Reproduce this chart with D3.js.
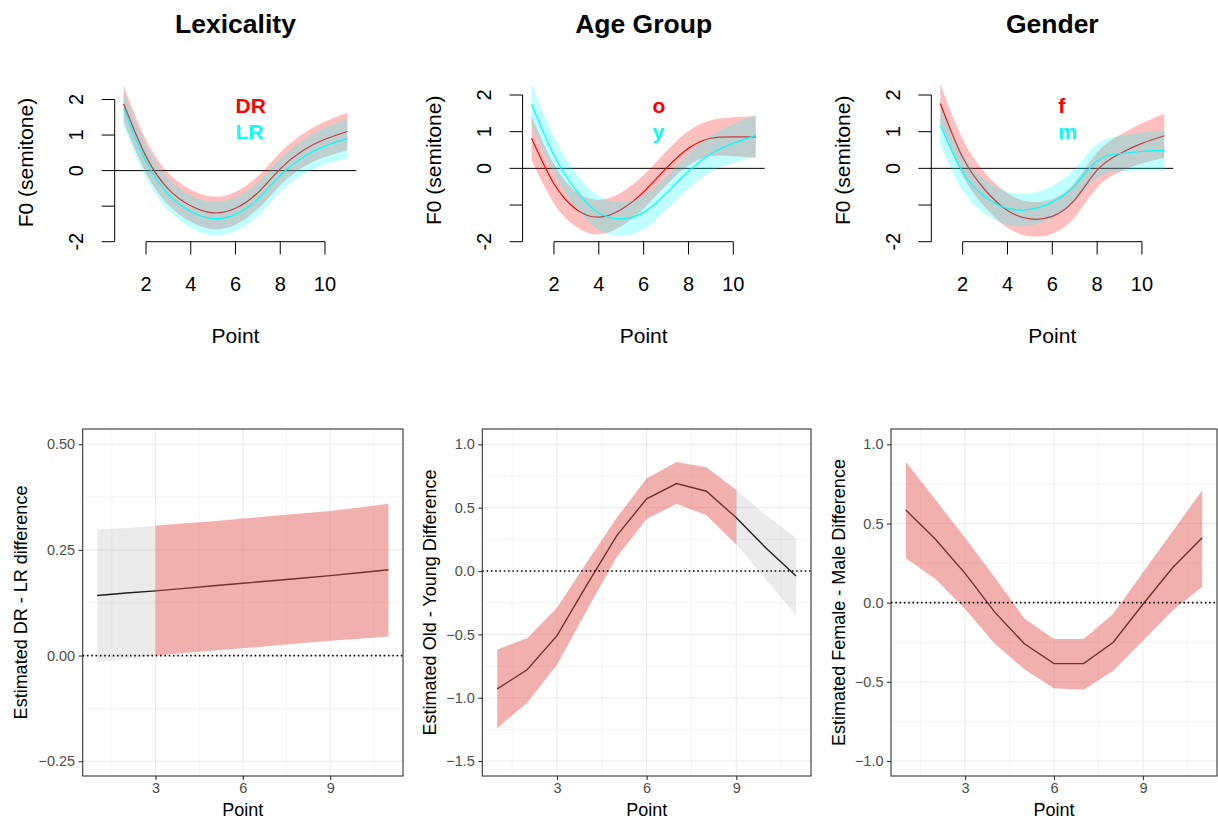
<!DOCTYPE html>
<html>
<head>
<meta charset="utf-8">
<style>
body { margin: 0; background: #fff; }
svg { display: block; font-family: "Liberation Sans", Arial, sans-serif; }
.grid-major { stroke: #ebebeb; stroke-width: 1.1; }
.grid-minor { stroke: #ebebeb; stroke-width: 0.55; }
</style>
</head>
<body>
<svg width="1218" height="820"></svg>
<script src="https://cdn.jsdelivr.net/npm/d3@7"></script>
<script>
// time points along the contour
var points = [1, 2, 3, 4, 5, 6, 7, 8, 9, 10, 11];

// top row: smooths (fit) and half width of the confidence band
var lexDR   = [1.88, 0.40, -0.52, -0.99, -1.19, -1.06, -0.62, 0.05, 0.56, 0.88, 1.10];
var lexDRse = [0.50, 0.47, 0.45, 0.45, 0.46, 0.46, 0.46, 0.46, 0.47, 0.50, 0.53];
var lexLR   = [1.74, 0.25, -0.67, -1.15, -1.35, -1.23, -0.80, -0.13, 0.37, 0.69, 0.90];
var lexLRse = [0.48, 0.46, 0.45, 0.45, 0.47, 0.47, 0.47, 0.47, 0.48, 0.52, 0.56];

var ageO   = [0.82, -0.42, -1.12, -1.33, -1.12, -0.64, 0.00, 0.55, 0.82, 0.86, 0.86];
var ageOse = [0.60, 0.53, 0.48, 0.47, 0.46, 0.46, 0.46, 0.47, 0.49, 0.53, 0.57];
var ageY   = [1.75, 0.36, -0.61, -1.22, -1.38, -1.20, -0.69, -0.08, 0.40, 0.68, 0.90];
var ageYse = [0.55, 0.50, 0.47, 0.46, 0.46, 0.46, 0.46, 0.47, 0.49, 0.53, 0.57];

var genF   = [1.77, 0.30, -0.59, -1.15, -1.38, -1.31, -0.86, -0.05, 0.40, 0.68, 0.89];
var genFse = [0.53, 0.50, 0.47, 0.47, 0.47, 0.47, 0.47, 0.48, 0.50, 0.55, 0.60];
var genM   = [1.18, -0.10, -0.78, -1.09, -1.12, -0.92, -0.47, 0.20, 0.40, 0.46, 0.49];
var genMse = [0.55, 0.50, 0.46, 0.45, 0.44, 0.44, 0.45, 0.46, 0.48, 0.52, 0.55];

// bottom row: estimated differences with CI, and which points count as significant
var lexDiff   = [0.142, 0.148, 0.153, 0.159, 0.165, 0.171, 0.177, 0.183, 0.189, 0.196, 0.203];
var lexDiffLo = [-0.016, -0.008, 0.000, 0.006, 0.012, 0.017, 0.023, 0.029, 0.035, 0.040, 0.045];
var lexDiffHi = [0.298, 0.302, 0.307, 0.313, 0.318, 0.324, 0.330, 0.336, 0.342, 0.350, 0.359];
var lexSig    = [0, 0, 1, 1, 1, 1, 1, 1, 1, 1, 1];

var ageDiff   = [-0.93, -0.78, -0.51, -0.11, 0.28, 0.57, 0.69, 0.63, 0.42, 0.18, -0.04];
var ageDiffLo = [-1.24, -1.04, -0.74, -0.31, 0.11, 0.41, 0.53, 0.44, 0.21, -0.07, -0.35];
var ageDiffHi = [-0.62, -0.53, -0.29, 0.07, 0.42, 0.73, 0.86, 0.82, 0.64, 0.44, 0.26];
var ageSig    = [1, 1, 1, 1, 1, 1, 1, 1, 1, 0, 0];

var genDiff   = [0.585, 0.40, 0.185, -0.06, -0.26, -0.385, -0.385, -0.25, -0.01, 0.22, 0.41];
var genDiffLo = [0.28, 0.15, -0.04, -0.26, -0.42, -0.54, -0.55, -0.43, -0.24, -0.05, 0.10];
var genDiffHi = [0.89, 0.65, 0.41, 0.16, -0.10, -0.23, -0.23, -0.07, 0.19, 0.45, 0.71];
var genSig    = [1, 1, 1, 1, 1, 1, 1, 1, 1, 1, 1];

var topTitles = ["Lexicality", "Age Group", "Gender"];
var topXTicks = [2, 4, 6, 8, 10];
var topYTicks = [-2, -1, 0, 1, 2];
var topYLabels = ["-2", "", "0", "1", "2"];  // R drops the "-1" label (overlap)

var bottomYLabels = [
  "Estimated DR - LR difference",
  "Estimated Old - Young Difference",
  "Estimated Female - Male Difference"
];
var bottomXTicks = [3, 6, 9];
var bottomXMinor = [1.5, 4.5, 7.5, 10.5];

var svg = d3.select("svg");

//----- top row (base R style smooth plots) -----
var topPanels = [
  { left: 114.7, right: 356.3, yTop: 99.5, title: topTitles[0], legX: 6.0,
    series: [ { fit: lexDR, se: lexDRse, name: "DR", col: "#ff0000" },
              { fit: lexLR, se: lexLRse, name: "LR", col: "#00ffff" } ] },
  { left: 522.6, right: 764.7, yTop: 95, title: topTitles[1], legX: 6.4,
    series: [ { fit: ageO, se: ageOse, name: "o", col: "#ff0000" },
              { fit: ageY, se: ageYse, name: "y", col: "#00ffff" } ] },
  { left: 931.3, right: 1173.3, yTop: 95, title: topTitles[2], legX: 6.27,
    series: [ { fit: genF, se: genFse, name: "f", col: "#ff0000" },
              { fit: genM, se: genMse, name: "m", col: "#00ffff" } ] }
];

topPanels.forEach(function(p) {
  var g = svg.append("g");
  var x = d3.scaleLinear().domain([0.6, 11.4]).range([p.left, p.right]);
  var y = d3.scaleLinear().domain([-2, 2]).range([241.7, p.yTop]);
  var cx = (p.left + p.right) / 2;

  g.append("text")
    .attr("x", cx).attr("y", 32.7)
    .attr("text-anchor", "middle")
    .style("font-size", "26.5px").style("font-weight", "bold")
    .text(p.title);

  // zero reference line
  g.append("line")
    .attr("x1", p.left).attr("x2", p.right)
    .attr("y1", y(0)).attr("y2", y(0))
    .attr("stroke", "#000").attr("stroke-width", 1);

  var area = d3.area().curve(d3.curveNatural)
    .x(function(d, i) { return x(points[i]); })
    .y0(function(d) { return y(d.f - d.s); })
    .y1(function(d) { return y(d.f + d.s); });
  var line = d3.line().curve(d3.curveNatural)
    .x(function(d, i) { return x(points[i]); })
    .y(function(d) { return y(d); });

  p.series.forEach(function(s) {
    var band = s.fit.map(function(f, i) { return { f: f, s: s.se[i] }; });
    g.append("path").attr("d", area(band))
      .attr("fill", s.col).attr("fill-opacity", 0.25);
    g.append("path").attr("d", line(s.fit))
      .attr("fill", "none").attr("stroke", s.col).attr("stroke-width", 1.2);
  });

  // legend labels
  p.series.forEach(function(s, i) {
    g.append("text")
      .attr("x", x(p.legX))
      .attr("y", 112.7 + i * 26.5)
      .attr("fill", s.col)
      .style("font-size", "21px").style("font-weight", "bold")
      .text(s.name);
  });

  // y axis
  g.append("line")
    .attr("x1", p.left).attr("x2", p.left)
    .attr("y1", y(-2)).attr("y2", y(2))
    .attr("stroke", "#000");
  topYTicks.forEach(function(t, i) {
    g.append("line")
      .attr("x1", p.left - 13).attr("x2", p.left)
      .attr("y1", y(t)).attr("y2", y(t))
      .attr("stroke", "#000");
    g.append("text")
      .attr("transform", "translate(" + (p.left - 31.5) + "," + y(t) + ") rotate(-90)")
      .attr("text-anchor", "middle")
      .style("font-size", "20px")
      .text(topYLabels[i]);
  });
  g.append("text")
    .attr("transform", "translate(" + (p.left - 81.5) + "," + ((y(2) + y(-2)) / 2 - 8) + ") rotate(-90)")
    .attr("text-anchor", "middle")
    .style("font-size", "21px")
    .text("F0 (semitone)");

  // x axis
  g.append("line")
    .attr("x1", x(2)).attr("x2", x(10))
    .attr("y1", 241.7).attr("y2", 241.7)
    .attr("stroke", "#000");
  topXTicks.forEach(function(t) {
    g.append("line")
      .attr("x1", x(t)).attr("x2", x(t))
      .attr("y1", 241.7).attr("y2", 254.5)
      .attr("stroke", "#000");
    g.append("text")
      .attr("x", x(t)).attr("y", 290.7)
      .attr("text-anchor", "middle")
      .style("font-size", "20px")
      .text(t);
  });
  g.append("text")
    .attr("x", cx).attr("y", 343.3)
    .attr("text-anchor", "middle")
    .style("font-size", "21px")
    .text("Point");
});

//----- bottom row (ggplot style difference plots) -----
var bottomPanels = [
  { left: 82.7, right: 403, yDom: [-0.285, 0.536], ticks: [-0.25, 0, 0.25, 0.5],
    minor: [-0.125, 0.125, 0.375], fmt: d3.format(".2f"), titleOff: 55.4,
    fit: lexDiff, lo: lexDiffLo, hi: lexDiffHi, sig: lexSig, label: bottomYLabels[0] },
  { left: 482.3, right: 811, yDom: [-1.618, 1.121], ticks: [-1.5, -1, -0.5, 0, 0.5, 1],
    minor: [-1.25, -0.75, -0.25, 0.25, 0.75], fmt: d3.format(".1f"), titleOff: 46.3,
    fit: ageDiff, lo: ageDiffLo, hi: ageDiffHi, sig: ageSig, label: bottomYLabels[1] },
  { left: 891, right: 1217, yDom: [-1.095, 1.097], ticks: [-1, -0.5, 0, 0.5, 1],
    minor: [-0.75, -0.25, 0.25, 0.75], fmt: d3.format(".1f"), titleOff: 46,
    fit: genDiff, lo: genDiffLo, hi: genDiffHi, sig: genSig, label: bottomYLabels[2] }
];

var bTop = 429, bBottom = 776;

bottomPanels.forEach(function(p) {
  var g = svg.append("g");
  var x = d3.scaleLinear().domain([0.5, 11.5]).range([p.left, p.right]);
  var y = d3.scaleLinear().domain(p.yDom).range([bBottom, bTop]);

  // grid
  p.minor.forEach(function(t) {
    g.append("line").attr("class", "grid-minor")
      .attr("x1", p.left).attr("x2", p.right).attr("y1", y(t)).attr("y2", y(t));
  });
  bottomXMinor.forEach(function(t) {
    g.append("line").attr("class", "grid-minor")
      .attr("x1", x(t)).attr("x2", x(t)).attr("y1", bTop).attr("y2", bBottom);
  });
  p.ticks.forEach(function(t) {
    g.append("line").attr("class", "grid-major")
      .attr("x1", p.left).attr("x2", p.right).attr("y1", y(t)).attr("y2", y(t));
  });
  bottomXTicks.forEach(function(t) {
    g.append("line").attr("class", "grid-major")
      .attr("x1", x(t)).attr("x2", x(t)).attr("y1", bTop).attr("y2", bBottom);
  });

  // estimate line
  var line = d3.line()
    .x(function(d, i) { return x(points[i]); })
    .y(function(d) { return y(d); });
  g.append("path").attr("d", line(p.fit))
    .attr("fill", "none").attr("stroke", "#000").attr("stroke-width", 1.4);

  // ribbons, split into significant (red) and non significant (grey) runs
  var runs = [];
  for (var i = 0; i < points.length - 1; i++) {
    var red = p.sig[i] && p.sig[i + 1];
    var last = runs[runs.length - 1];
    if (last && last.red === red) last.idx.push(i + 1);
    else runs.push({ red: red, idx: [i, i + 1] });
  }
  var area = d3.area()
    .x(function(i) { return x(points[i]); })
    .y0(function(i) { return y(p.lo[i]); })
    .y1(function(i) { return y(p.hi[i]); });
  runs.forEach(function(r) {
    g.append("path").attr("d", area(r.idx))
      .attr("fill", r.red ? "rgb(227,97,93)" : "rgb(155,155,155)")
      .attr("fill-opacity", r.red ? 0.5 : 0.2);
  });

  // dotted zero line
  g.append("line")
    .attr("x1", p.left).attr("x2", p.right)
    .attr("y1", y(0)).attr("y2", y(0))
    .attr("stroke", "#000").attr("stroke-width", 1.7)
    .attr("stroke-dasharray", "1.5,2.8");

  // panel border
  g.append("rect")
    .attr("x", p.left).attr("y", bTop)
    .attr("width", p.right - p.left).attr("height", bBottom - bTop)
    .attr("fill", "none").attr("stroke", "#333").attr("stroke-width", 1.1);

  // axes
  var yAxis = d3.axisLeft(y).tickValues(p.ticks).tickFormat(p.fmt)
    .tickSizeInner(4).tickSizeOuter(0).tickPadding(3.5);
  var ya = g.append("g").attr("transform", "translate(" + p.left + ",0)").call(yAxis);
  var xAxis = d3.axisBottom(x).tickValues(bottomXTicks).tickFormat(d3.format("d"))
    .tickSizeInner(4).tickSizeOuter(0).tickPadding(3);
  var xa = g.append("g").attr("transform", "translate(0," + bBottom + ")").call(xAxis);
  [ya, xa].forEach(function(a) {
    a.select(".domain").remove();
    a.selectAll(".tick line").attr("stroke", "#333").attr("stroke-width", 1.1);
    a.selectAll(".tick text").attr("fill", "#4d4d4d")
      .style("font-size", "14.5px").style("font-family", "Liberation Sans, Arial, sans-serif");
  });

  g.append("text")
    .attr("x", (p.left + p.right) / 2).attr("y", 816)
    .attr("text-anchor", "middle")
    .style("font-size", "18px")
    .text("Point");
  g.append("text")
    .attr("transform", "translate(" + (p.left - p.titleOff) + "," + ((bTop + bBottom) / 2) + ") rotate(-90)")
    .attr("text-anchor", "middle")
    .style("font-size", "18px")
    .text(p.label);
});
</script>
</body>
</html>
